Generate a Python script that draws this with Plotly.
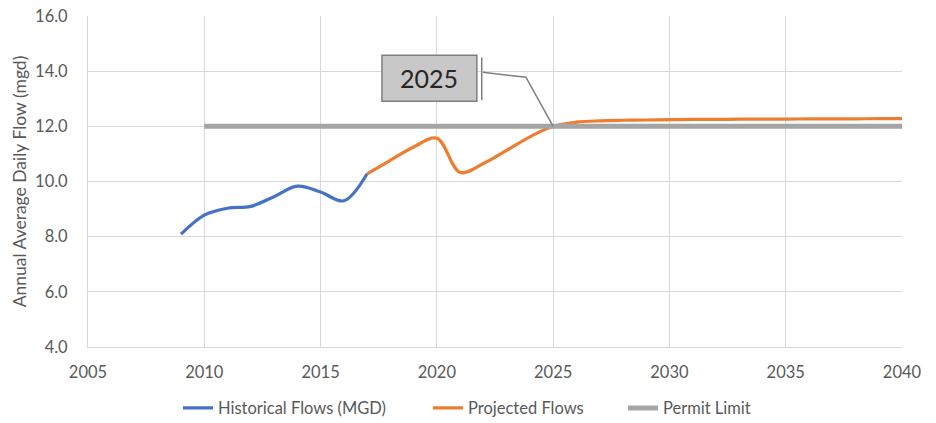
import plotly.graph_objects as go

# Annual average daily flow (mgd)
hist_years = [2009, 2010, 2011, 2012, 2013, 2014, 2015, 2016, 2017]
hist_flows = [8.09, 8.78, 9.03, 9.10, 9.45, 9.83, 9.62, 9.30, 10.28]

proj_years = [2017, 2018, 2019, 2020, 2021, 2022, 2023, 2024, 2025, 2026, 2027,
              2028, 2029, 2030, 2031, 2032, 2033, 2034, 2035, 2036, 2037, 2038,
              2039, 2040]
proj_flows = [10.28, 10.77, 11.25, 11.57, 10.33, 10.65, 11.13, 11.62, 12.00,
              12.15, 12.20, 12.22, 12.23, 12.24, 12.25, 12.25, 12.26, 12.26,
              12.26, 12.27, 12.27, 12.27, 12.28, 12.28]

permit_years = [2010, 2040]
permit_limit = [12.0, 12.0]

callout_year = 2025
callout_value = proj_flows[proj_years.index(callout_year)]

x_ticks = [2005, 2010, 2015, 2020, 2025, 2030, 2035, 2040]
y_ticks = [4.0, 6.0, 8.0, 10.0, 12.0, 14.0, 16.0]

FONT = "Lato"
TEXT = "#595959"
GRID = "#d9d9d9"
FS = 16.5
W, H = 936, 423

fig = go.Figure()
fig.add_trace(go.Scatter(
    x=hist_years, y=hist_flows, mode="lines", name="Historical Flows (MGD)",
    legend="legend",
    line=dict(color="#4472C4", width=3.2, shape="spline", smoothing=1.0)))
fig.add_trace(go.Scatter(
    x=proj_years, y=proj_flows, mode="lines", name="Projected Flows",
    legend="legend2",
    line=dict(color="#ED7D31", width=3.2, shape="spline", smoothing=1.0)))
fig.add_trace(go.Scatter(
    x=permit_years, y=permit_limit, mode="lines", name="Permit Limit",
    legend="legend3",
    line=dict(color="#A5A5A5", width=5)))

# Callout box with bent leader line pointing at the 2025 value
box_x0, box_x1, box_y0, box_y1 = 2017.64, 2021.72, 12.91, 14.58
shapes = [
    dict(type="rect", xref="x", yref="y", x0=box_x0, x1=box_x1, y0=box_y0, y1=box_y1,
         fillcolor="#c8c8c8", line=dict(color="#7f7f7f", width=1.5), layer="above"),
    dict(type="line", xref="x", yref="y", x0=2021.93, x1=2021.93, y0=12.95, y1=14.50,
         line=dict(color="#7f7f7f", width=1.5)),
    dict(type="path", xref="x", yref="y",
         path=f"M 2021.98 13.96 L 2023.83 13.78 L {callout_year} {callout_value}",
         line=dict(color="#7f7f7f", width=1.5)),
]

fig.add_annotation(x=(box_x0 + box_x1) / 2, y=(box_y0 + box_y1) / 2, xref="x", yref="y",
                   text=str(callout_year), showarrow=False,
                   font=dict(family=FONT, size=25, color="#262626"))


def legend_at(px):
    return dict(orientation="h", xref="container", x=px / W, xanchor="left",
                yref="container", y=0.035, yanchor="middle",
                bgcolor="rgba(0,0,0,0)",
                font=dict(family=FONT, size=FS, color=TEXT))


fig.update_layout(
    width=W, height=H,
    margin=dict(l=88, r=34, t=16, b=76, autoexpand=False),
    paper_bgcolor="white", plot_bgcolor="white",
    font=dict(family=FONT, size=FS, color=TEXT),
    shapes=shapes,
    showlegend=True,
    legend=legend_at(178),
    legend2=legend_at(428),
    legend3=legend_at(623),
    xaxis=dict(range=[2005, 2040], tickvals=x_ticks, ticktext=[str(t) for t in x_ticks],
               showgrid=True, gridcolor=GRID, gridwidth=1, zeroline=False,
               showline=True, linecolor=GRID, linewidth=1, mirror=False,
               ticks="", ticklabelstandoff=10, tickfont=dict(size=FS, color=TEXT)),
    yaxis=dict(range=[4.0, 16.0], tickvals=y_ticks, ticktext=[f"{t:.1f}" for t in y_ticks],
               showgrid=True, gridcolor=GRID, gridwidth=1, zeroline=False,
               showline=True, linecolor=GRID, linewidth=1,
               ticks="", ticklabelstandoff=16, tickfont=dict(size=FS, color=TEXT),
               title=dict(text="Annual Average Daily Flow (mgd)", standoff=3,
                          font=dict(size=17.5, color=TEXT))),
)

fig.write_html("out.html")
